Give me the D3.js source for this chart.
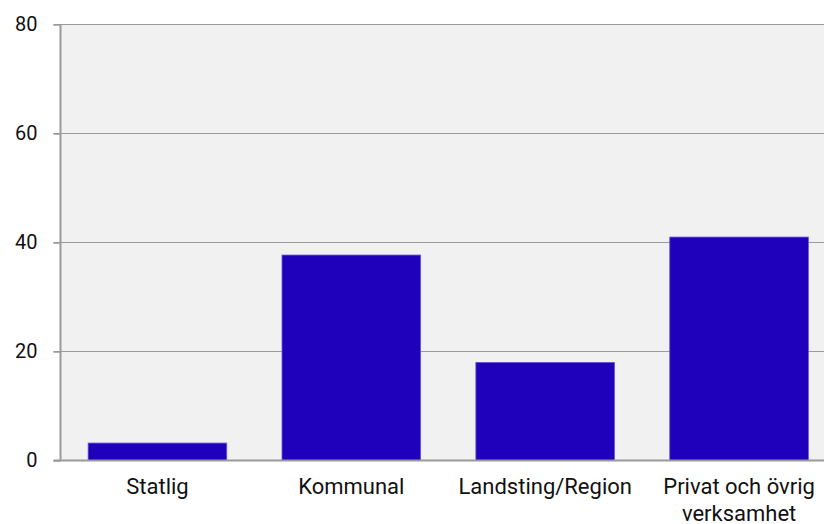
<!DOCTYPE html>
<html><head><meta charset="utf-8">
<script src="https://cdn.jsdelivr.net/npm/d3@7"></script>
<style>body{margin:0;background:#fff;overflow:hidden}svg{display:block}</style>
</head><body><svg id="c" width="824" height="524"></svg>
<script>
const categories = ["Statlig", "Kommunal", "Landsting/Region", "Privat och övrig verksamhet"];
const values = [3.2, 37.7, 18.0, 41.0];
const yTicks = [0, 20, 40, 60, 80];

const svg = d3.select("#c");
const mLeft = 60.5, mRight = 836, mTop = 24.5, mBottom = 460.5;
const font = "Roboto, sans-serif";

const x = d3.scaleBand().domain(categories).range([mLeft, mRight]).paddingInner(0.285).paddingOuter(0.1425);
const y = d3.scaleLinear().domain([0, 80]).range([mBottom, mTop]);

svg.append("rect").attr("x", mLeft).attr("y", mTop).attr("width", mRight - mLeft).attr("height", mBottom - mTop).attr("fill", "#f1f1f1");

// gridlines
svg.append("g").selectAll("line").data(yTicks.filter(d => d > 0)).join("line")
  .attr("x1", mLeft - 7).attr("x2", mRight).attr("y1", d => y(d)).attr("y2", d => y(d))
  .attr("stroke", "#9a9a9a").attr("stroke-width", 1.2);

// bars
svg.append("g").selectAll("rect").data(values).join("rect")
  .attr("x", (d, i) => x(categories[i])).attr("width", x.bandwidth())
  .attr("y", d => y(d)).attr("height", d => y(0) - y(d))
  .attr("fill", "#1f00bb").attr("stroke", "#6a55d8").attr("stroke-width", 0.8);

// y axis
const ya = svg.append("g").attr("transform", `translate(${mLeft},0)`)
  .call(d3.axisLeft(y).tickValues(yTicks).tickSize(7).tickPadding(16));
ya.select(".domain").attr("stroke", "#9a9a9a").attr("stroke-width", 2).attr("d", `M0,${mTop}V${mBottom}`);
ya.selectAll(".tick line").attr("stroke", "#9a9a9a").attr("stroke-width", 1.5);
ya.selectAll(".tick text").attr("font-family", font).attr("font-size", 20).attr("fill", "#111");

// zero baseline
svg.append("line").attr("x1", mLeft - 7).attr("x2", mRight).attr("y1", y(0)).attr("y2", y(0))
  .attr("stroke", "#9a9a9a").attr("stroke-width", 2);

// x labels
const xa = svg.append("g").attr("transform", `translate(0,${mBottom})`)
  .call(d3.axisBottom(x).tickSize(0).tickPadding(18));
xa.select(".domain").remove();
xa.selectAll(".tick text").attr("font-family", font).attr("font-size", 22).attr("fill", "#111")
  .each(function(d) {
    if (d === "Privat och övrig verksamhet") {
      const t = d3.select(this); t.text(null);
      t.append("tspan").attr("x", 0).attr("dy", "0.71em").text("Privat och övrig");
      t.append("tspan").attr("x", 0).attr("dy", "1.24em").text("verksamhet");
    }
  });
</script></body></html>
